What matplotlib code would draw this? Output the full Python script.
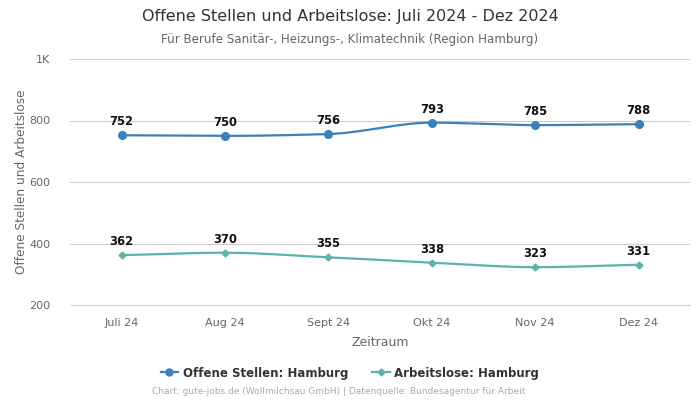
import numpy as np
import matplotlib
matplotlib.use("Agg")
import matplotlib.pyplot as plt
from matplotlib.lines import Line2D

categories = ["Juli 24", "Aug 24", "Sept 24", "Okt 24", "Nov 24", "Dez 24"]
offene = [752, 750, 756, 793, 785, 788]
arbeitslose = [362, 370, 355, 338, 323, 331]
yticks = [200, 400, 600, 800, 1000]
yticklabels = ["200", "400", "600", "800", "1K"]

BLUE = "#3a80ba"
TEAL = "#5ab4ac"

def monotone(x, y, n=30):
    x = np.asarray(x, float); y = np.asarray(y, float)
    h = np.diff(x); d = np.diff(y) / h
    m = np.zeros_like(y)
    m[0] = d[0]; m[-1] = d[-1]
    for i in range(1, len(y) - 1):
        if d[i - 1] * d[i] <= 0:
            m[i] = 0
        else:
            w1 = 2 * h[i] + h[i - 1]; w2 = h[i] + 2 * h[i - 1]
            m[i] = (w1 + w2) / (w1 / d[i - 1] + w2 / d[i])
    xs, ys = [], []
    for i in range(len(x) - 1):
        t = np.linspace(0, 1, n)
        h00 = 2*t**3 - 3*t**2 + 1; h10 = t**3 - 2*t**2 + t
        h01 = -2*t**3 + 3*t**2; h11 = t**3 - t**2
        xs.append(x[i] + t * h[i])
        ys.append(h00*y[i] + h10*h[i]*m[i] + h01*y[i+1] + h11*h[i]*m[i+1])
    return np.concatenate(xs), np.concatenate(ys)

fig = plt.figure(figsize=(7, 4), dpi=100)
ax = fig.add_axes([0.1, 0.2375, 0.886, 0.615])
x = np.arange(len(categories))

for vals, col, mk, ms in [(offene, BLUE, "o", 5.5), (arbeitslose, TEAL, "D", 3.5)]:
    sx, sy = monotone(x, vals)
    ax.plot(sx, sy, color=col, lw=1.6, zorder=3)
    ax.plot(x, vals, ls="none", marker=mk, ms=ms, color=col, zorder=4)
    for xi, v in zip(x, vals):
        ax.annotate(str(v), (xi, v), xytext=(0, 5), textcoords="offset points",
                    ha="center", va="bottom", fontsize=8.3, fontweight="bold", color="#111111")

ax.set_xlim(-0.5, len(categories) - 0.5)
ax.set_ylim(200, 1000)
ax.set_yticks(yticks)
ax.set_yticklabels(yticklabels)
ax.set_xticks(x)
ax.set_xticklabels(categories)
ax.tick_params(axis="both", length=0, labelsize=8, labelcolor="#666666")
ax.tick_params(axis="x", pad=9)
ax.tick_params(axis="y", pad=14)
ax.grid(axis="y", color="#cccccc", lw=0.8)
ax.set_axisbelow(True)
for s in ax.spines.values():
    s.set_visible(False)
ax.spines["bottom"].set_visible(True)
ax.spines["bottom"].set_color("#ccd6eb")
ax.spines["bottom"].set_linewidth(0.8)
ax.set_xlabel("Zeitraum", fontsize=9, color="#666666", labelpad=6)
ax.set_ylabel("Offene Stellen und Arbeitslose", fontsize=8.7, color="#666666", labelpad=1)

fig.text(0.5, 1 - 17/400, "Offene Stellen und Arbeitslose: Juli 2024 - Dez 2024",
         ha="center", va="center", fontsize=11.5, color="#333333")
fig.text(0.5, 1 - 39/400, "Für Berufe Sanitär-, Heizungs-, Klimatechnik (Region Hamburg)",
         ha="center", va="center", fontsize=8.6, color="#666666")

handles = [Line2D([], [], color=BLUE, marker="o", ms=5, lw=1.6),
           Line2D([], [], color=TEAL, marker="D", ms=3.5, lw=1.6)]
fig.legend(handles, ["Offene Stellen: Hamburg", "Arbeitslose: Hamburg"],
           loc="center", bbox_to_anchor=(0.5, 1 - 373/400), ncol=2, frameon=False,
           prop={"size": 8.5, "weight": "bold"}, labelcolor="#333333",
           handlelength=1.5, handletextpad=0.4, columnspacing=2.0)
fig.text(339/700, 1 - 392/400, "Chart: gute-jobs.de (Wollmilchsau GmbH) | Datenquelle: Bundesagentur für Arbeit",
         ha="center", va="center", fontsize=6.5, color="#aaaaaa")

fig.savefig("out.png", dpi=100)
